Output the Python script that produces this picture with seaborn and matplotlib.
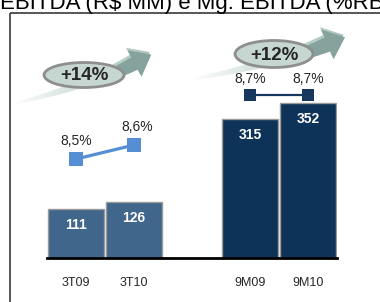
import numpy as np
import pandas as pd
import matplotlib
matplotlib.use("Agg")
import matplotlib.pyplot as plt
import seaborn as sns
from matplotlib.patches import Polygon, Ellipse, Rectangle
from matplotlib.colors import LinearSegmentedColormap

# dados
periodos = ["3T09", "3T10", "9M09", "9M10"]
ebitda = [111, 126, 315, 352]
margem_tri = [8.5, 8.6]
margem_9m = [8.7, 8.7]
margem_tri_txt = ["8,5%", "8,6%"]
margem_9m_txt = ["8,7%", "8,7%"]
crescimento = ["+14%", "+12%"]
titulo = "EBITDA (R$ MM) e Mg. EBITDA (%RB)"

sns.set_style("white")
plt.rcParams['font.family'] = ['Liberation Sans', 'DejaVu Sans']

W, H = 380, 302
fig = plt.figure(figsize=(W / 100, H / 100), dpi=100)

# camada de decoração em pixels (setas, elipses, moldura)
deco = fig.add_axes([0, 0, 1, 1])
deco.set_xlim(0, W)
deco.set_ylim(H, 0)
deco.axis("off")

deco.add_patch(Rectangle((9.5, 12.5), 420, 320, fill=False, edgecolor="#3a3a3a", lw=1.2))
deco.text(-0.5, 9, titulo, fontsize=16, va="baseline", ha="left", color="black")

cmap_seta = LinearSegmentedColormap.from_list("seta", ["#ffffff", "#cfded9", "#a8c2bb"])


def seta(ax, p0, p1, p2, w0, w1, head_w, head_len):
    p0, p1, p2 = map(np.array, (p0, p1, p2))
    t = np.linspace(0, 1, 40)[:, None]
    pts = (1 - t) ** 2 * p0 + 2 * (1 - t) * t * p1 + t ** 2 * p2
    tang = 2 * (1 - t) * (p1 - p0) + 2 * t * (p2 - p1)
    tang = tang / np.linalg.norm(tang, axis=1, keepdims=True)
    norm = np.column_stack([tang[:, 1], -tang[:, 0]])
    w = (w0 + (w1 - w0) * t) / 2
    sup = pts + norm * w
    inf = pts - norm * w
    fim, tf, nf = pts[-1], tang[-1], norm[-1]
    cabeca = [fim + nf * head_w / 2, fim + tf * head_len, fim - nf * head_w / 2]
    poly = np.vstack([sup, cabeca, inf[::-1]])
    # sombra só perto da cabeça
    sombra_pts = np.vstack([sup[28:], cabeca, inf[28:][::-1]]) + np.array([1.5, 2.5])
    ax.add_patch(Polygon(sombra_pts, closed=True, color="#86a29c", lw=0))
    patch = Polygon(poly, closed=True, facecolor="none", lw=0)
    ax.add_patch(patch)
    x0, x1 = poly[:, 0].min(), poly[:, 0].max()
    y0, y1 = poly[:, 1].min(), poly[:, 1].max()
    grad = np.linspace(0, 1, 200)[None, :]
    im = ax.imshow(grad, extent=(x0, x1, y1, y0), cmap=cmap_seta, aspect="auto")
    im.set_clip_path(patch)


seta(deco, (12, 104), (82, 88), (133, 61), 2, 14, 30, 19)
seta(deco, (188, 80), (268, 66), (326, 42), 2, 15, 32, 19)

for (cx, cy, w, h), txt in zip([(84, 75, 80, 25), (274, 54, 78, 27)], crescimento):
    deco.add_patch(Ellipse((cx, cy), w, h, facecolor="#c6d6d0", edgecolor="#8e8e8e", lw=2))
    deco.text(cx, cy + 1, txt, ha="center", va="center", fontsize=13.5, fontweight="bold")
deco.set_xlim(0, W)
deco.set_ylim(H, 0)

# barras
ordem = ["3T09", "3T10", " ", "9M09", "9M10"]
df = pd.DataFrame({"periodo": periodos, "ebitda": ebitda})
cores = {"3T09": "#336699", "3T10": "#336699", "9M09": "#003366", "9M10": "#003366"}

ax = fig.add_axes([47 / W, 44 / H, 290 / W, 238 / H])
ax.patch.set_visible(False)
sns.barplot(data=df, x="periodo", y="ebitda", hue="periodo", palette=cores, order=ordem,
            width=0.965, edgecolor="#9a9a9a", linewidth=1, legend=False, ax=ax)
ax.set_xlim(-0.5, 4.5)
ax.set_ylim(0, 238 * 2.27)
ax.set_xlabel("")
ax.set_ylabel("")
ax.set_yticks([])
ax.set_xticks([0, 1, 3, 4])
ax.set_xticklabels(periodos, fontsize=9)
ax.tick_params(axis="x", length=0, pad=14)
for s in ["left", "right", "top"]:
    ax.spines[s].set_visible(False)
ax.spines["bottom"].set_color("black")
ax.spines["bottom"].set_linewidth(2)

pos = [0, 1, 3, 4]
for x, v in zip(pos, ebitda):
    ax.annotate(str(v), (x, v), xytext=(0, -16), textcoords="offset pixels",
                ha="center", va="center", color="white", fontsize=10, fontweight="bold")

# margens (escalas separadas)
ax2 = ax.twinx()
ax2.set_ylim(7.793, 9.493)
sns.lineplot(x=[0, 1], y=margem_tri, ax=ax2, color="#558ed5", lw=2.3, marker="s",
             markersize=9.5, markeredgewidth=0)
for x, v, t, dx in zip([0, 1], margem_tri, margem_tri_txt, [0, 3]):
    ax2.annotate(t, (x, v), xytext=(dx, 18), textcoords="offset pixels",
                 ha="center", va="center", fontsize=10)

ax3 = ax.twinx()
ax3.set_ylim(7.535, 9.235)
sns.lineplot(x=[3, 4], y=margem_9m, ax=ax3, color="#17375e", lw=1.6, marker="s",
             markersize=8.5, markeredgewidth=0)
for x, v, t in zip([3, 4], margem_9m, margem_9m_txt):
    ax3.annotate(t, (x, v), xytext=(0, 16), textcoords="offset pixels",
                 ha="center", va="center", fontsize=10)

for a in (ax2, ax3):
    a.set_xlim(-0.5, 4.5)
    a.axis("off")

fig.savefig("out.png", dpi=100)
